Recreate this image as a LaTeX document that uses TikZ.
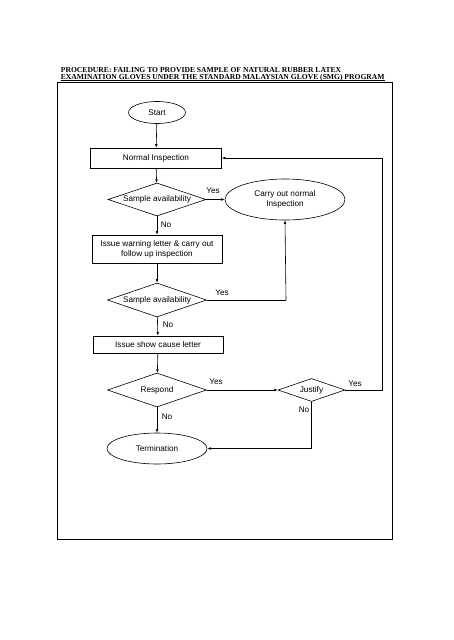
\documentclass[tikz,border=0pt]{standalone}
\usepackage{fontspec}
\setmainfont{Liberation Sans}
\newfontfamily\titlefont{Liberation Serif}
\usetikzlibrary{shapes.geometric,arrows.meta}
\begin{document}
\begin{tikzpicture}[x=1pt,y=-1pt,
  every node/.style={font=\fontsize{8.2}{10}\selectfont},
  box/.style={draw,line width=0.6pt,rectangle,inner sep=0pt,align=center},
  oval/.style={draw,line width=0.6pt,ellipse,inner sep=0pt,align=center},
  dia/.style={draw,line width=0.6pt,diamond,inner sep=0pt},
  lbl/.style={inner sep=0.5pt},
  conn/.style={line width=0.6pt,-{Latex[length=3.5pt,width=2.6pt]}},
  plain/.style={line width=0.6pt},
  ttl/.style={inner sep=0pt,anchor=base west,font=\titlefont\bfseries\fontsize{7.6}{8}\selectfont}
]
\useasboundingbox[fill=white] (0,0) rectangle (453,640);
% title
\node[ttl] (title1) at (60.7,72) {PROCEDURE: FAILING TO PROVIDE SAMPLE OF NATURAL RUBBER LATEX};
\node[ttl] (title2) at (60.7,79) {EXAMINATION GLOVES UNDER THE STANDARD MALAYSIAN GLOVE (SMG) PROGRAM};
\draw[line width=0.5pt] ([yshift=-1.5pt]title2.base west) -- ([yshift=-1.5pt]title2.base east);
% frame
\draw[line width=0.6pt] (57,82.5) rectangle (392.5,539);
% nodes
\node[oval,minimum width=57pt,minimum height=22pt] (start) at (157,112.5) {Start};
\node[box,minimum width=131pt,minimum height=20pt] (ni) at (156,158) {Normal Inspection};
\node[dia,minimum width=98pt,minimum height=33pt,label=center:{Sample availability}] (d1) at (157,199.5) {};
\node[oval,minimum width=120pt,minimum height=41pt] (cno) at (285,199.5) {Carry out normal\\Inspection};
\node[box,minimum width=130pt,minimum height=28pt] (warn) at (157,249) {Issue warning letter \& carry out\\follow up inspection};
\node[dia,minimum width=99pt,minimum height=34pt,label=center:{Sample availability}] (d2) at (157,300) {};
\node[box,minimum width=130pt,minimum height=17pt] (show) at (158,344.5) {Issue show cause letter};
\node[dia,minimum width=99pt,minimum height=34pt,label=center:{Respond}] (resp) at (157,390) {};
\node[dia,minimum width=67pt,minimum height=23pt,label=center:{Justify}] (just) at (311.5,390) {};
\node[oval,minimum width=100pt,minimum height=31pt] (term) at (157,448.5) {Termination};
% helper coordinates
\coordinate (c2) at (286,300);
\coordinate (rtop) at (382,158);
\coordinate (rbot) at (382,390);
\coordinate (jb) at (311.5,448.5);
% connectors
\draw[conn] (start) -- (ni);
\draw[conn] (ni) -- (d1);
\draw[conn] (d1.east) -- (cno.west);
\draw[conn] (d1) -- (warn);
\draw[conn] (warn) -- (d2);
\draw[plain] (d2.east) -- (c2);
\draw[conn] (c2) -- (cno.south);
\draw[conn] (d2) -- (show);
\draw[conn] (show) -- (resp);
\draw[conn] (resp.east) -- (just.west);
\draw[plain] (just.east) -- (rbot) -- (rtop);
\draw[conn] (rtop) -- (ni.east);
\draw[plain] (just.south) -- (jb);
\draw[conn] (jb) -- (term.east);
\draw[conn] (resp) -- (term);
% labels
\node[lbl] (y1) at (213,191) {Yes};
\node[lbl] (n1) at (166,225) {No};
\node[lbl] (y2) at (222,293) {Yes};
\node[lbl] (n2) at (168,325) {No};
\node[lbl] (y3) at (216,382) {Yes};
\node[lbl] (n3) at (167,417) {No};
\node[lbl] (y4) at (355,384) {Yes};
\node[lbl] (n4) at (304,410) {No};
\end{tikzpicture}
\end{document}
